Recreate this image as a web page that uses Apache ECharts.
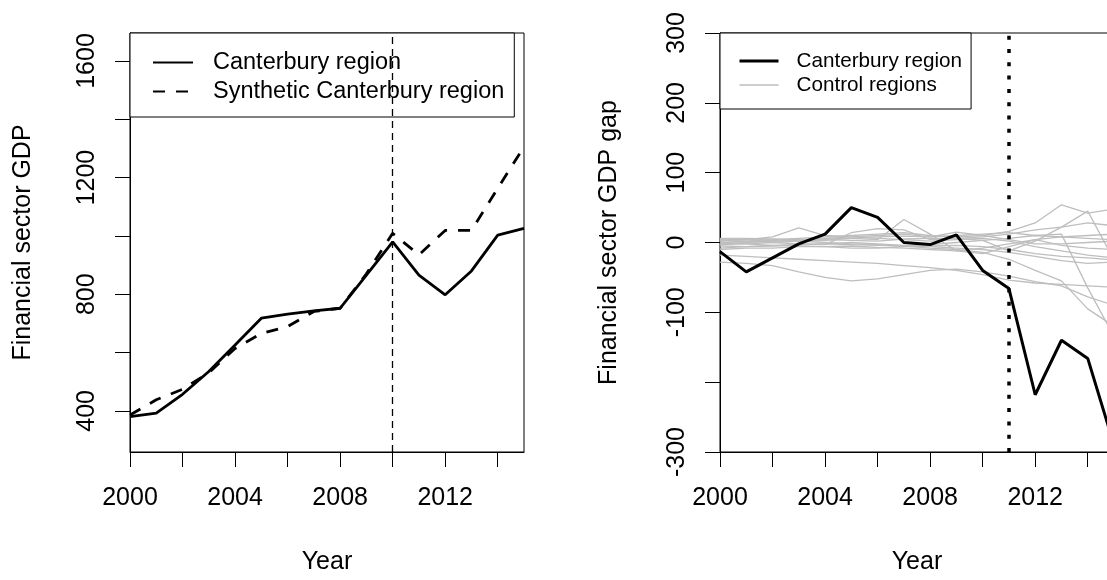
<!DOCTYPE html>
<html>
<head>
<meta charset="utf-8">
<script src="https://cdn.jsdelivr.net/npm/echarts@6/dist/echarts.min.js"></script>
<style>
html, body { margin: 0; padding: 0; background: #fff; }
#main { width: 1107px; height: 580px; }
</style>
</head>
<body>
<div id="main"></div>
<script>
var years = [2000, 2001, 2002, 2003, 2004, 2005, 2006, 2007, 2008, 2009, 2010, 2011, 2012, 2013, 2014, 2015];

// left panel: financial sector GDP
var canterbury = [380, 392, 457, 535, 626, 718, 732, 743, 752, 866, 980, 866, 798, 880, 1003, 1026];
var synthetic = [386, 438, 474, 531, 614, 666, 689, 741, 752, 870, 1009, 935, 1019, 1019, 1163, 1306];

// right panel: GDP gap
var gapCanterbury = [-13, -42, -22, -2, 12, 50, 36, 0, -3, 11, -40, -66, -218, -140, -166, -290];
var control1 = [0, 2, 4, 6, 8, 10, 12, 14, 10, 8, 10, 16, 28, 54, 42, 48];
var control2 = [5, 4, 2, 3, 4, 3, 2, 5, 6, 6, 3, -12, 2, 22, 45, -25];
var control3 = [-3, -2, 0, 2, 3, 6, 8, 9, 8, 10, 12, 14, 10, 12, -65, -135];
var control4 = [-2, 0, 2, 4, 6, 6, 4, 33, 12, -12, -16, -6, 4, 8, 6, 4];
var control5 = [2, 4, 8, 21, 10, 8, 6, 4, 2, 4, 6, 2, -6, -12, -18, -22];
var control6 = [-5, -6, -5, -3, -2, -3, -4, -5, -3, 0, 3, 6, 10, 8, 10, 12];
var control7 = [3, 2, 0, -2, -3, 14, 20, 18, 4, 6, 8, 12, 18, 22, 28, 24];
var control8 = [-8, -6, -4, -5, -6, -8, -8, -6, -5, -4, -6, -10, -16, -20, -22, -25];
var control9 = [0, -2, -4, -3, -2, 0, -2, -4, -6, -8, -10, -14, -20, -26, -30, -28];
var control10 = [-18, -20, -22, -24, -26, -28, -30, -33, -36, -40, -46, -54, -58, -60, -62, -64];
var control11 = [-28, -30, -33, -42, -50, -55, -52, -46, -40, -38, -42, -48, -56, -62, -78, -90];
var control12 = [4, 5, 3, 2, 0, -2, -3, -5, -8, -10, -14, -24, -40, -55, -95, -120];
var control13 = [-10, -8, -8, -6, -6, -5, -7, -8, -10, -12, -8, -2, 4, -4, -8, -10];
var control14 = [6, 6, 5, 4, 6, 8, 10, 12, 8, 15, 10, 4, -2, -2, 0, 2];
var controls = [control1, control2, control3, control4, control5, control6, control7,
                control8, control9, control10, control11, control12, control13, control14];

// axes
var xTicks = [2000, 2002, 2004, 2006, 2008, 2010, 2012, 2014];
var xLabels = [2000, 2004, 2008, 2012];
var yTicksLeft = [400, 600, 800, 1000, 1200, 1400, 1600];
var yLabelsLeft = [400, 800, 1200, 1600];
var yTicksRight = [-300, -200, -100, 0, 100, 200, 300];
var yLabelsRight = [-300, -100, 0, 100, 200, 300];
var treatLeft = 2010;
var treatRight = 2011;

var FONT = 'Liberation Sans, Arial, sans-serif';

function pairs(vals) {
    return years.map(function (y, i) { return [y, vals[i]]; });
}

function xAxisOf(idx) {
    return {
        type: 'value', gridIndex: idx, min: 2000, max: 2015,
        name: 'Year', nameLocation: 'middle', nameGap: 98,
        nameTextStyle: { fontSize: 25, color: '#000', fontFamily: FONT },
        axisLine: { show: true, onZero: false, lineStyle: { color: '#000', width: 1 } },
        axisTick: { show: true, length: 15, customValues: xTicks, lineStyle: { color: '#000', width: 1 } },
        axisLabel: {
            customValues: xLabels, margin: 34, fontSize: 25, color: '#000', fontFamily: FONT,
            formatter: function (v) { return String(v); }
        },
        splitLine: { show: false }
    };
}

function yAxisOf(idx, min, max, ticks, labels, name, gap) {
    return {
        type: 'value', gridIndex: idx, min: min, max: max,
        name: name, nameLocation: 'middle', nameGap: gap,
        nameTextStyle: { fontSize: 25, color: '#000', fontFamily: FONT },
        axisLine: { show: true, onZero: false, lineStyle: { color: '#000', width: 1 } },
        axisTick: { show: true, length: 15, customValues: ticks, lineStyle: { color: '#000', width: 1 } },
        axisLabel: {
            customValues: labels, rotate: 90, margin: 30, fontSize: 25, color: '#000', fontFamily: FONT,
            formatter: function (v) { return String(v); }
        },
        splitLine: { show: false }
    };
}

var series = [
    {
        name: 'Canterbury region', type: 'line', xAxisIndex: 0, yAxisIndex: 0,
        data: pairs(canterbury), symbol: 'none', animation: false,
        lineStyle: { color: '#000', width: 2.8 },
        markLine: {
            silent: true, symbol: ['none', 'none'], label: { show: false },
            lineStyle: { color: '#000', width: 1.3, type: [7, 5] },
            data: [{ xAxis: treatLeft }]
        }
    },
    {
        name: 'Synthetic Canterbury region', type: 'line', xAxisIndex: 0, yAxisIndex: 0,
        data: pairs(synthetic), symbol: 'none', animation: false,
        lineStyle: { color: '#000', width: 2.8, type: [12, 11] }
    }
];

controls.forEach(function (c) {
    series.push({
        name: 'Control regions', type: 'line', xAxisIndex: 1, yAxisIndex: 1,
        data: pairs(c), symbol: 'none', animation: false,
        itemStyle: { color: '#bebebe' },
        lineStyle: { color: '#bebebe', width: 1.3 }
    });
});

series.push({
    name: 'Canterbury region', type: 'line', xAxisIndex: 1, yAxisIndex: 1,
    data: pairs(gapCanterbury), symbol: 'none', animation: false, z: 5,
    lineStyle: { color: '#000', width: 3 },
    markLine: {
        silent: true, symbol: ['none', 'none'], label: { show: false },
        lineStyle: { color: '#000', width: 3.5, type: [4, 9.3] },
        data: [{ xAxis: treatRight }]
    }
});

var chart = echarts.init(document.getElementById('main'));
chart.setOption({
    backgroundColor: '#fff',
    animation: false,
    grid: [
        { left: 130, top: 33, width: 394, height: 419, outerBoundsMode: 'none', containLabel: false,
          show: true, borderColor: '#000', borderWidth: 1 },
        { left: 720, top: 33, width: 394, height: 419, outerBoundsMode: 'none', containLabel: false,
          show: true, borderColor: '#000', borderWidth: 1 }
    ],
    xAxis: [xAxisOf(0), xAxisOf(1)],
    yAxis: [
        yAxisOf(0, 259, 1696, yTicksLeft, yLabelsLeft, 'Financial sector GDP', 94),
        yAxisOf(1, -300, 300, yTicksRight, yLabelsRight, 'Financial sector GDP gap', 98)
    ],
    legend: [
        {
            orient: 'vertical', left: 130, top: 33, itemGap: 0,
            itemWidth: 40, itemHeight: 14,
            padding: [15, 10, 11, 22],
            borderColor: '#000', borderWidth: 1, borderRadius: 0, backgroundColor: '#fff',
            selectedMode: false,
            itemStyle: { opacity: 0 },
            textStyle: { fontSize: 23.5, lineHeight: 29, color: '#000', fontFamily: FONT, padding: [0, 0, 0, 15] },
            data: ['Canterbury region', 'Synthetic Canterbury region']
        },
        {
            orient: 'vertical', left: 720, top: 33, itemGap: 0,
            itemWidth: 39, itemHeight: 12,
            padding: [16, 9, 12, 18],
            borderColor: '#000', borderWidth: 1, borderRadius: 0, backgroundColor: '#fff',
            selectedMode: false,
            itemStyle: { opacity: 0 },
            textStyle: { fontSize: 20.7, lineHeight: 24, color: '#000', fontFamily: FONT, padding: [0, 0, 0, 13] },
            data: [
                { name: 'Canterbury region', lineStyle: { width: 3 } },
                { name: 'Control regions', lineStyle: { color: '#bebebe', width: 1.3 } }
            ]
        }
    ],
    series: series
});
</script>
</body>
</html>
